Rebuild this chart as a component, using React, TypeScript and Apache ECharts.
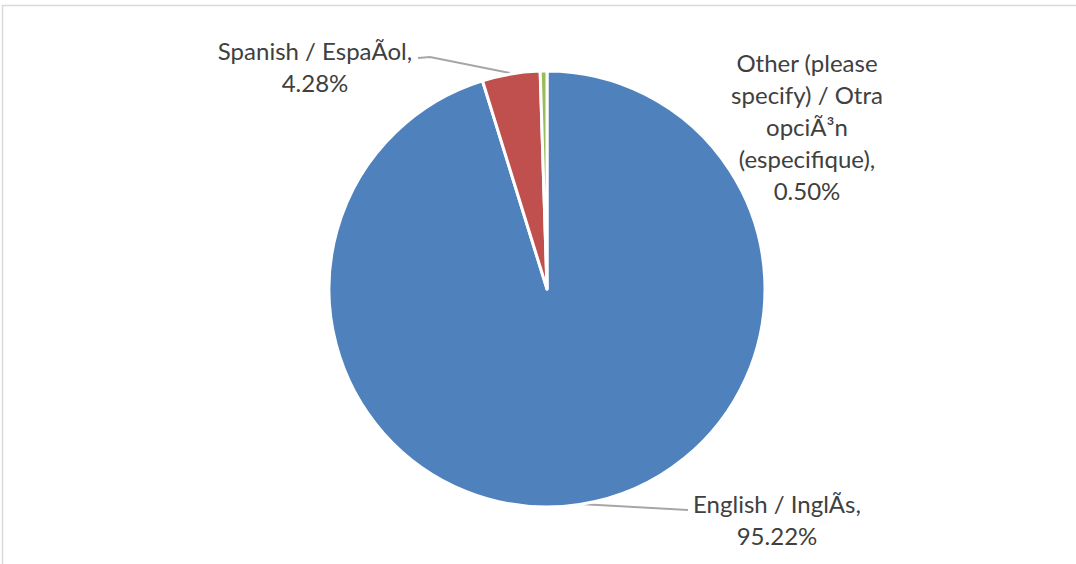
import React, { useEffect, useRef } from "react";
import * as echarts from "echarts";

const categories = [
  "English / InglÃs",
  "Spanish / EspaÃol",
  "Other (please specify) / Otra opciÃ³n (especifique)",
];
const labelNames = [
  "English / InglÃs,",
  "Spanish / EspaÃol,",
  "Other (please\nspecify) / Otra\nopciÃ³n\n(especifique),",
];
const shares = [95.22, 4.28, 0.5];
const colors = ["#4F81BD", "#C0504D", "#9BBB59"];

export default function App() {
  const ref = useRef<HTMLDivElement>(null);
  useEffect(() => {
    document.body.style.margin = "0";
    const chart = echarts.init(ref.current!, null, { renderer: "svg" });
    const labelPos: any[] = [
      { x: 777, y: 519, line: [[580, 504], [688, 510]] },
      { x: 315, y: 66, line: [[510, 73], [430, 57], [418, 58]] },
      { x: 807, y: 126, line: null },
    ];
    chart.setOption({
      animation: false,
      backgroundColor: "#ffffff",
      graphic: [
        {
          type: "polyline",
          shape: { points: [[2.5, 600], [2.5, 5.5], [1100, 5.5]] },
          style: { stroke: "#D9D9D9", lineWidth: 1.5, fill: "none" },
          silent: true,
        },
      ],
      series: [
        {
          type: "pie",
          center: [547, 289],
          radius: 218,
          startAngle: 90,
          clockwise: true,
          itemStyle: { borderColor: "#ffffff", borderWidth: 3 },
          data: categories.map((c, i) => ({
            name: c,
            value: shares[i],
            itemStyle: { color: colors[i] },
            labelLine: { show: !!labelPos[i].line },
          })),
          label: {
            show: true,
            formatter: (p: any) =>
              labelNames[p.dataIndex] + "\n" + shares[p.dataIndex].toFixed(2) + "%",
            fontFamily: "Lato",
            fontSize: 24,
            lineHeight: 32,
            color: "#404040",
            align: "center",
          },
          labelLine: {
            show: true,
            lineStyle: { color: "#A6A6A6", width: 2 },
          },
          labelLayout: (params: any) => {
            const p = labelPos[params.dataIndex];
            const out: any = {
              x: p.x,
              y: p.y,
              align: "center",
              verticalAlign: "middle",
            };
            if (p.line) out.labelLinePoints = p.line;
            return out;
          },
        },
      ],
    });
    return () => chart.dispose();
  }, []);
  return (
    <div
      ref={ref}
      style={{ position: "absolute", left: 0, top: 0, width: 1076, height: 564 }}
    />
  );
}
